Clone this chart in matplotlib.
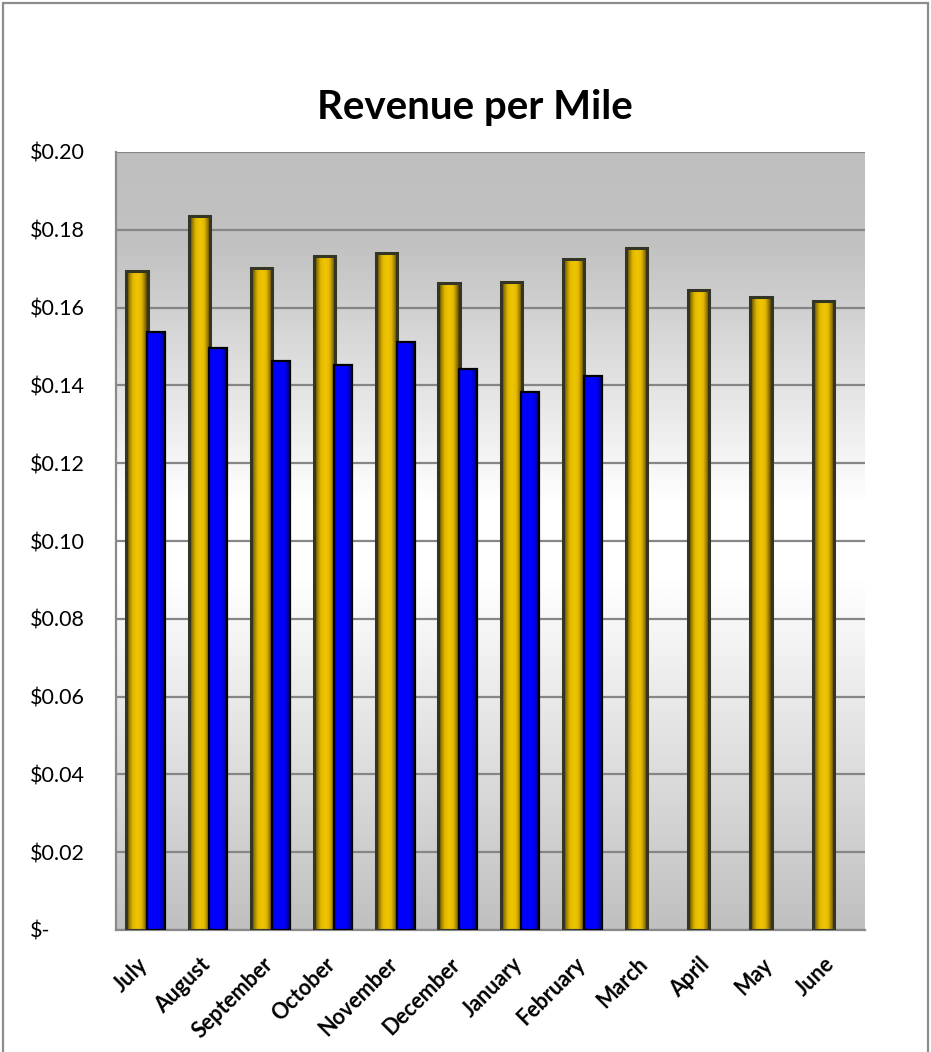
import numpy as np
import matplotlib
matplotlib.use("Agg")
import matplotlib.pyplot as plt
import matplotlib.transforms as mtransforms
from matplotlib.colors import LinearSegmentedColormap
from matplotlib.patches import Rectangle

plt.rcParams['font.family'] = ['Lato', 'DejaVu Sans']

months = ["July", "August", "September", "October", "November", "December",
          "January", "February", "March", "April", "May", "June"]
prior_year = [0.1694, 0.1835, 0.1703, 0.1733, 0.1740, 0.1662,
              0.1665, 0.1725, 0.1752, 0.1645, 0.1627, 0.1617]
current_year = [0.1536, 0.1497, 0.1464, 0.1452, 0.1512, 0.1443,
                0.1382, 0.1423]
yticks = [0.00, 0.02, 0.04, 0.06, 0.08, 0.10, 0.12, 0.14, 0.16, 0.18, 0.20]
ytick_labels = ["$-", "$0.02", "$0.04", "$0.06", "$0.08", "$0.10",
                "$0.12", "$0.14", "$0.16", "$0.18", "$0.20"]

W, H = 931, 1052
fig = plt.figure(figsize=(W / 100, H / 100), dpi=100)
ax = fig.add_axes([116 / W, 1 - 930 / H, (865 - 116) / W, (930 - 152) / H])

# background gradient of plot area
bg_cmap = LinearSegmentedColormap.from_list(
    "bg", [(0.0, "#c0c0c0"), (0.45, "#ffffff"), (0.55, "#ffffff"),
           (0.88, "#c2c2c2"), (1.0, "#bfbfbf")])
grad = np.linspace(0, 1, 256).reshape(-1, 1)
ax.imshow(grad, extent=[0, 1, 0, 1], transform=ax.transAxes, aspect='auto',
          cmap=bg_cmap, origin='lower', zorder=0, interpolation='bicubic')

x = np.arange(len(months))
gold_w, blue_w = 0.34, 0.29
gold_bars = ax.bar(x - 0.165, prior_year, width=gold_w, color='none',
                   edgecolor='#353525', linewidth=2.2, zorder=3)
blue_bars = ax.bar(x[:len(current_year)] + 0.14, current_year, width=blue_w,
                   color='none', edgecolor='#000000', linewidth=1.6, zorder=5)

gold_cmap = LinearSegmentedColormap.from_list(
    "gold", [(0.0, "#2e2800"), (0.12, "#8a7000"), (0.3, "#e0b800"),
             (0.5, "#f0c600"), (0.7, "#e6ba00"), (0.88, "#8c7000"),
             (1.0, "#2e2800")])
blue_cmap = LinearSegmentedColormap.from_list(
    "blue", [(0.0, "#0000e8"), (0.1, "#0000ff"), (0.65, "#0000ff"),
             (0.85, "#0000b0"), (1.0, "#000040")])
hgrad = np.linspace(0, 1, 128).reshape(1, -1)

for bars, cmap, z in [(gold_bars, gold_cmap, 2), (blue_bars, blue_cmap, 4)]:
    for b in bars:
        x0, w, h = b.get_x(), b.get_width(), b.get_height()
        im = ax.imshow(hgrad, extent=[x0, x0 + w, 0, h], aspect='auto',
                       cmap=cmap, zorder=z, interpolation='bicubic')
        im.set_clip_path(b)

ax.set_xlim(-0.5, len(months) - 0.5)
ax.set_ylim(0, 0.20)
ax.set_yticks(yticks)
ax.set_yticklabels(ytick_labels)
ax.yaxis.grid(True, color='#868686', linewidth=1.6, zorder=1)
ax.set_axisbelow(True)
ax.tick_params(axis='y', length=0, pad=62, labelsize=15.5)
for lab in ax.get_yticklabels():
    lab.set_horizontalalignment('left')

ax.set_xticks(x)
ax.set_xticklabels(months, rotation=45, ha='right', va='top',
                   fontsize=15.5, fontweight='bold', rotation_mode='default')
ax.tick_params(axis='x', length=0, pad=17)
shift = mtransforms.ScaledTranslation(5 / 100, 0, fig.dpi_scale_trans)
for lab in ax.get_xticklabels():
    lab.set_transform(lab.get_transform() + shift)

for s in ['top', 'right']:
    ax.spines[s].set_visible(False)
ax.spines['left'].set_color('#8a8a8a')
ax.spines['left'].set_linewidth(1.6)
ax.spines['bottom'].set_color('#8a8a8a')
ax.spines['bottom'].set_linewidth(1.6)

fig.text(475 / W, 1 - 108 / H, "Revenue per Mile", ha='center', va='center',
         fontsize=29, fontweight='bold')

fig.patches.append(Rectangle((3 / W, -0.02), (928 - 3) / W, (1052 - 3) / H + 0.02,
                             transform=fig.transFigure, fill=False,
                             edgecolor='#8c8c8c', linewidth=1.6))

fig.savefig("out.png", dpi=100)
